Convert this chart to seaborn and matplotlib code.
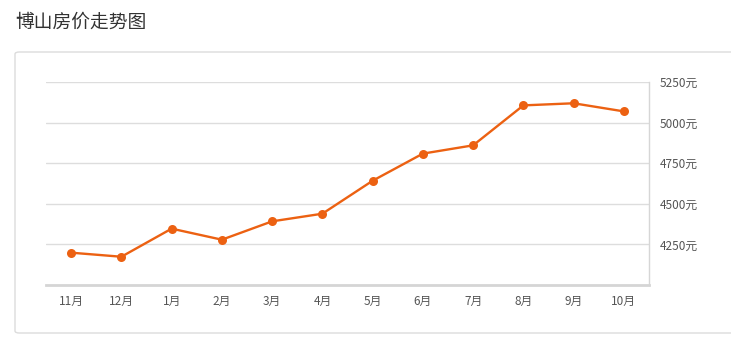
import matplotlib
matplotlib.use("Agg")
import matplotlib.pyplot as plt
from matplotlib.patches import FancyBboxPatch
import seaborn as sns
import pandas as pd

months = ["11月", "12月", "1月", "2月", "3月", "4月", "5月", "6月", "7月", "8月", "9月", "10月"]
prices = [4199, 4174, 4347, 4279, 4392, 4439, 4642, 4809, 4860, 5106, 5119, 5069]
yticks = [4250, 4500, 4750, 5000, 5250]
ytick_labels = ["4250元", "4500元", "4750元", "5000元", "5250元"]
title = "博山房价走势图"

sns.set_theme(style="white")
plt.rcParams["font.family"] = ["Noto Sans CJK SC", "DejaVu Sans"]

df = pd.DataFrame({"month": months, "price": prices})

fig = plt.figure(figsize=(7.31, 3.48), dpi=100)
fig.patch.set_facecolor("white")

# card border
card = FancyBboxPatch((15 / 731, 1 - 333 / 348), (731 - 15 + 10) / 731, (333 - 52) / 348,
                      boxstyle="round,pad=0,rounding_size=0.006", transform=fig.transFigure,
                      facecolor="white", edgecolor="#dcdcdc", linewidth=1.0, zorder=-5)
fig.patches.append(card)

fig.text(15 / 731, 1 - 22 / 348, title, fontsize=13.5, color="#333333", ha="left", va="center")

ax = fig.add_axes([46 / 731, 1 - 285 / 348, (649 - 46) / 731, (285 - 82) / 348])
ax.set_zorder(5)
ax.set_facecolor("none")

sns.lineplot(data=df, x="month", y="price", ax=ax, color="#EC6112", linewidth=1.7,
             marker="o", markersize=6.5, markeredgewidth=0, sort=False, zorder=3)

ax.set_xlim(-0.5, len(months) - 0.5)
ax.set_ylim(4000, 5250)
ax.set_yticks(yticks)
ax.set_yticklabels(ytick_labels)
ax.yaxis.tick_right()
ax.tick_params(axis="y", length=0, pad=8, labelsize=8.5, labelcolor="#555555")
ax.tick_params(axis="x", length=3, width=0.8, color="#dddddd", pad=4, labelsize=8.5, labelcolor="#555555")
ax.set_xlabel("")
ax.set_ylabel("")
ax.grid(axis="y", color="#dddddd", linewidth=1.0)
ax.grid(axis="x", visible=False)
for s in ["top", "left"]:
    ax.spines[s].set_visible(False)
ax.spines["bottom"].set_color("#d5d5d5")
ax.spines["bottom"].set_linewidth(2.0)
ax.spines["right"].set_color("#d6d6d6")
ax.spines["right"].set_linewidth(1.0)

fig.savefig("out.png", dpi=100, facecolor="white")
